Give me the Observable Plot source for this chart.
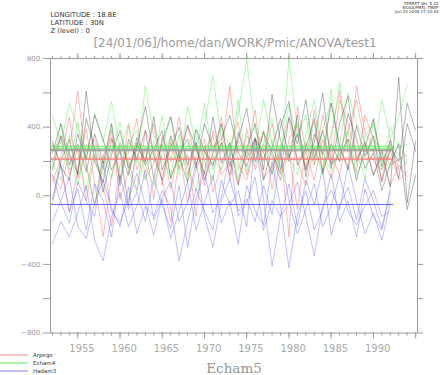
<!DOCTYPE html>
<html><head><meta charset="utf-8">
<script src="https://cdn.jsdelivr.net/npm/d3@7"></script>
<script src="https://cdn.jsdelivr.net/npm/@observablehq/plot@0.6"></script>
<style>
body{margin:0;background:#fff;}
#wrap{position:relative;width:440px;height:375px;overflow:hidden;}
.leg{position:absolute;left:0;height:8px;display:flex;align-items:center;font:5.5px "DejaVu Sans",sans-serif;color:#333;}
.leg svg{display:block;margin-right:5px;}
</style>
</head><body><div id="wrap"></div>
<script>
// ---- data ----
const models = ["Arpege", "Echam4", "Hadam3", "Echam5"];
const modelColors = ["#ff5050", "#40e840", "#5a5aff", "#3a3a3a"];
const legendModels = ["Arpege", "Echam4", "Hadam3"];
const legendColors = ["#ff8080", "#55ee55", "#8080ff"];
const startYear = 1952;

const arpege = [
  [120,40,260,610,180,-60,230,340,90,410,150,280,-20,350,200,460,120,300,60,380,250,640,180,90,330,210,420,150,260,-80,310,180,470,240,120,380,560,300,200,150,260,90,140],
  [300,180,-100,150,390,70,-240,120,310,200,30,380,260,90,-150,220,410,180,330,20,170,290,430,120,250,380,40,280,-240,520,260,90,330,190,560,420,220,300,120,230,60,180,110],
  [200,350,120,280,-30,240,60,-180,180,250,450,100,190,300,40,270,-40,150,290,170,460,90,320,240,500,100,170,260,450,200,60,280,150,360,610,250,140,470,330,260,180,210,240],
  [80,220,460,100,260,330,150,380,-20,140,290,200,420,60,310,160,240,-120,270,350,120,200,70,390,150,300,230,90,330,410,150,500,220,100,280,170,640,370,280,90,330,150,200]
];
const echam4 = [
  [470,300,540,390,220,480,310,550,260,420,190,640,350,280,460,150,520,300,410,700,330,250,480,800,370,300,450,220,530,340,470,180,390,540,290,600,420,310,250,560,330,460,650],
  [200,90,350,250,30,280,160,420,100,300,380,170,60,250,330,120,290,380,200,90,410,280,150,350,260,560,300,160,800,380,240,430,150,310,660,280,180,350,420,200,300,240,180],
  [260,330,150,430,180,-60,240,100,300,180,230,90,320,210,120,360,80,230,540,220,150,300,100,260,170,380,120,300,230,120,350,560,250,140,270,380,120,240,330,150,400,280,300],
  [160,420,250,60,300,210,120,260,430,150,20,280,200,470,100,240,170,30,260,150,310,210,560,140,280,200,330,90,250,430,170,280,120,620,200,330,260,100,440,210,160,310,200]
];
const hadam3 = [
  [-280,-150,-240,-100,60,-260,-380,-120,20,-180,-60,150,-140,-20,-250,-90,80,-200,-40,120,-160,-30,-280,60,-90,-170,200,-60,-420,-110,30,-200,-80,130,-150,-30,-240,40,-120,-200,20],
  [-50,180,-90,40,-200,70,-30,-240,120,-80,20,-150,100,-60,-190,60,-300,-20,140,-100,-10,250,-120,-40,110,-200,-30,-120,70,-180,90,-50,160,-230,-60,50,-140,100,-30,-190,40],
  [-150,-30,110,-180,-250,-40,90,-70,-180,50,-220,-60,-120,30,-70,-380,-150,40,-90,-200,90,-60,30,-180,330,-20,-410,-120,-50,80,-120,-350,-60,30,-80,180,-30,-220,-100,-260,-40],
  [120,-40,-160,80,-30,-120,200,-90,-160,-20,130,-50,-230,-10,80,-150,-40,200,-120,-300,-30,100,-90,-20,-150,60,-110,250,-30,-220,-80,70,-180,-60,120,-90,-170,-60,30,-120,-90]
];
const echam5 = [
  [150,350,240,130,610,200,80,330,260,120,340,200,460,150,280,400,180,310,90,250,420,170,330,510,200,370,250,130,460,300,560,220,380,160,420,580,200,310,120,260,50,690,-40,320],
  [-20,200,330,120,450,280,20,240,380,160,290,520,230,90,350,200,410,280,130,460,190,310,60,280,420,150,590,320,200,470,110,360,240,540,290,150,410,230,350,80,280,200,540,380],
  [320,170,90,360,210,470,330,150,260,-60,310,180,270,380,100,250,330,160,420,280,330,470,250,170,340,90,280,450,220,360,150,310,600,180,240,330,90,280,450,170,320,100,420,260],
  [250,420,180,300,140,360,190,420,60,330,210,380,100,320,460,230,80,390,260,180,310,120,370,220,330,250,130,400,550,180,280,450,130,300,200,480,330,160,250,30,190,300,-80,120]
];

// model mean lines
const meanModels = ["Arpege", "Arpege", "Echam4", "Echam4", "Echam5", "Hadam3"];
const meanValues = [219, 211, 289, 277, 265, -51];

// axes
const xDomain = [1951.77, 1995.22];
const minorYears = d3.range(1952, 1996);
const majorYears = [1955, 1960, 1965, 1970, 1975, 1980, 1985, 1990, 1995];
const yearLabels = [1955, 1960, 1965, 1970, 1975, 1980, 1985, 1990];
const yTicks = [-800, -600, -400, -200, 0, 200, 400, 600, 800];
const yLabelValues = [-800, -400, 0, 400, 800];
const yLabelTexts = ["−800.", "−400.", "0.", "400.", "800."];

const headerText = "LONGITUDE : 18.8E\nLATITUDE : 30N\nZ (level) : 0";
const ferretText = "FERRET Ver. 5.22\nNOAA/PMEL TMAP\nJun 24 2006 17:10:44";
const titleText = "[24/01/06]/home/dan/WORK/Pmic/ANOVA/test1";
const bottomLabel = "Echam5";

// ---- build table ----
const rows = [];
[["Arpege", arpege], ["Echam4", echam4], ["Hadam3", hadam3], ["Echam5", echam5]].forEach(([m, runs]) => {
  runs.forEach((vals, r) => vals.forEach((v, i) => rows.push({model: m, id: m + r, year: startYear + i, value: v})));
});
const blueEnd = startYear + hadam3[0].length - 1 + 0.4;
const means = meanModels.map((m, i) => ({model: m, value: meanValues[i]}));
const meanStyle = {
  Arpege: {stroke: "#ff7878", strokeWidth: 0.8},
  Echam4: {stroke: "#44ee44", strokeWidth: 0.8},
  Echam5: {stroke: "#a0a0a0", strokeWidth: 2},
  Hadam3: {stroke: "#6464ff", strokeWidth: 1}
};

const axisCol = "#9a9a9a";
const sans = "DejaVu Sans";

const plot = Plot.plot({
  width: 440, height: 375,
  marginLeft: 50, marginRight: 23, marginTop: 58, marginBottom: 42.5,
  style: {fontFamily: sans, background: "#fff"},
  x: {domain: xDomain},
  y: {domain: [-800, 800]},
  color: {domain: models, range: modelColors},
  marks: [
    Plot.line(rows, {x: "year", y: "value", z: "id", stroke: "model", strokeWidth: 0.7, strokeOpacity: 0.55}),
    ...Object.keys(meanStyle).map(m =>
      Plot.ruleY(means.filter(d => d.model === m), {y: "value", x1: xDomain[0], x2: blueEnd, ...meanStyle[m]})
    ),
    Plot.frame({stroke: axisCol}),
    Plot.axisX({anchor: "bottom", ticks: minorYears, tickSize: 3, tickFormat: () => "", label: null, stroke: axisCol}),
    Plot.axisX({anchor: "bottom", ticks: majorYears, tickSize: 6, tickFormat: () => "", label: null, stroke: axisCol}),
    Plot.axisX({anchor: "top", ticks: minorYears, tickSize: 3, tickFormat: () => "", label: null, stroke: axisCol}),
    Plot.axisX({anchor: "top", ticks: majorYears, tickSize: 6, tickFormat: () => "", label: null, stroke: axisCol}),
    Plot.text(yearLabels, {x: d => d + 0.5, frameAnchor: "bottom", lineAnchor: "bottom", dy: 18.5, text: d => String(d), fontSize: 10, fill: "#aaa"}),
    Plot.axisY({anchor: "left", ticks: yTicks, tickSize: 7, tickFormat: () => "", label: null, stroke: axisCol}),
    Plot.axisY({anchor: "right", ticks: yTicks, tickSize: 5, tickFormat: () => "", label: null, stroke: axisCol}),
    Plot.text(yLabelValues, {y: d => d, frameAnchor: "left", textAnchor: "end", dx: -8, text: (d, i) => yLabelTexts[i], fontSize: 7, fill: "#999"}),
    Plot.text([headerText], {frameAnchor: "top-left", textAnchor: "start", lineAnchor: "top", dx: 0, dy: -47, lineHeight: 1.15, fontSize: 6.8, fill: "#333"}),
    Plot.text([ferretText], {frameAnchor: "top-right", textAnchor: "end", lineAnchor: "top", dx: 21, dy: -57, lineHeight: 1.1, fontSize: 4, fill: "#333"}),
    Plot.text([titleText], {frameAnchor: "top", lineAnchor: "bottom", dx: 1, dy: -12, fontSize: 12, fill: "#9c9c9c"}),
    Plot.text([bottomLabel], {frameAnchor: "bottom", lineAnchor: "bottom", dx: 0, dy: 39.5, fontSize: 13.5, fontFamily: "DejaVu Serif", fill: "#939393"})
  ]
});

const wrap = document.getElementById("wrap");
wrap.appendChild(plot);
const svgNS = "http://www.w3.org/2000/svg";
legendModels.forEach((m, i) => {
  const d = document.createElement("div");
  d.className = "leg";
  d.style.top = (351 + 8 * i) + "px";
  const s = document.createElementNS(svgNS, "svg");
  s.setAttribute("width", "28");
  s.setAttribute("height", "2");
  const ln = document.createElementNS(svgNS, "line");
  ln.setAttribute("x1", "0"); ln.setAttribute("x2", "28");
  ln.setAttribute("y1", "1"); ln.setAttribute("y2", "1");
  ln.setAttribute("stroke", legendColors[i]);
  ln.setAttribute("stroke-width", "1");
  s.appendChild(ln);
  d.appendChild(s);
  d.appendChild(document.createTextNode(m));
  wrap.appendChild(d);
});
</script></body></html>
